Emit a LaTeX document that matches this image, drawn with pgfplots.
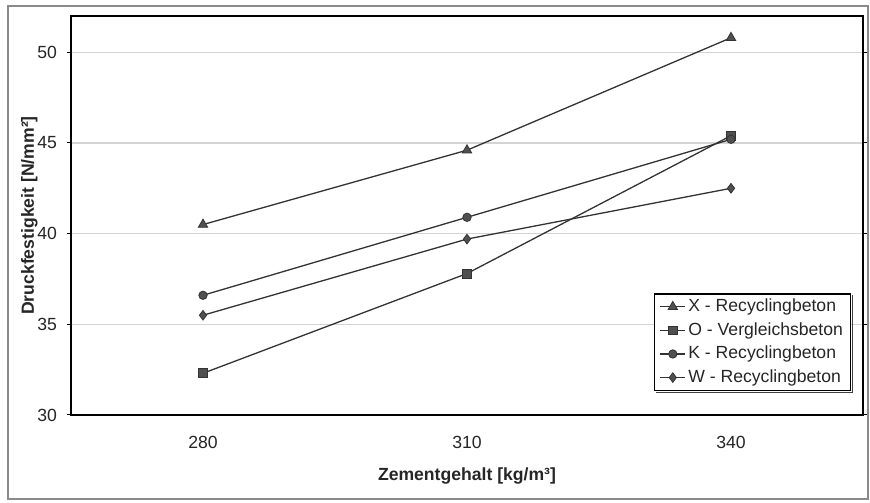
\documentclass[border=0pt]{standalone}
\usepackage{pgfplots}
\pgfplotsset{compat=1.18}
\usepackage{fontspec}
\setmainfont{Liberation Sans}
\definecolor{linegray}{HTML}{333333}
\definecolor{markgray}{HTML}{505050}
\definecolor{gridgray}{HTML}{D4D4D4}
\definecolor{framegray}{HTML}{8A8A8A}
\begin{document}
\begin{tikzpicture}
\useasboundingbox (0,0) rectangle (435pt,251pt);
\fill[white] (0,0) rectangle (435pt,251pt);
\draw[framegray, line width=0.8pt] (4pt,1.5pt) rectangle (434pt,248pt);
\begin{axis}[
  at={(35.5pt,43.5pt)}, anchor=south west,
  scale only axis, width=396pt, height=199.5pt,
  xmin=265, xmax=355, ymin=30, ymax=52,
  xtick={280,310,340}, ytick={30,35,40,45,50},
  major x tick style={draw=none},
  ytick style={black, line width=0.5pt},
  tick align=outside, major tick length=2pt,
  ymajorgrids, grid style={gridgray, line width=0.6pt},
  axis line style={black, line width=0.9pt},
  /pgf/number format/assume math mode=true,
  tick label style={font=\fontsize{8.8}{10}\selectfont, color=black!85},
  yticklabel style={xshift=-1.5pt},
  xticklabel style={yshift=-5pt},
  xlabel={\bfseries Zementgehalt [kg/m³]},
  ylabel={\bfseries Druckfestigkeit [N/mm²]},
  label style={font=\fontsize{8.8}{10}\selectfont, color=black!85},
  xlabel style={yshift=-2.5pt},
  ylabel style={yshift=-7pt},
  legend cell align=left,
  legend style={name=leg, at={(axis description cs:0.9848,0.0602)}, anchor=south east,
    font=\fontsize{8.8}{10}\selectfont, draw=black, line width=0.6pt, fill=white,
    inner xsep=2.5pt, inner ysep=0.5pt, row sep=0pt,
    nodes={inner xsep=1.2pt, inner ysep=1.2pt, text height=7.2pt, text depth=2.2pt, text=black!85}},
  legend image code/.code={\draw[mark repeat=2,mark phase=2] plot coordinates {(0cm,0cm) (0.22cm,0cm) (0.44cm,0cm)};},
  every axis plot/.append style={linegray, line width=0.65pt,
    mark options={fill=markgray, draw=black!80, line width=0.4pt, solid}},
]
\addplot[mark=triangle*, mark size=2.7pt] coordinates {(280,40.5) (310,44.6) (340,50.8)};
\addlegendentry{X - Recyclingbeton}
\addplot[mark=square*, mark size=2.2pt] coordinates {(280,32.3) (310,37.8) (340,45.4)};
\addlegendentry{O - Vergleichsbeton}
\addplot[mark=*, mark size=2.1pt] coordinates {(280,36.6) (310,40.9) (340,45.2)};
\addlegendentry{K - Recyclingbeton}
\addplot[mark=diamond*, mark size=2.4pt] coordinates {(280,35.5) (310,39.7) (340,42.5)};
\addlegendentry{W - Recyclingbeton}
\end{axis}
\draw[black!75, line width=0.8pt] ([xshift=0.7pt,yshift=-1pt]leg.north east) -- ([xshift=0.7pt,yshift=-0.7pt]leg.south east) -- ([xshift=1pt,yshift=-0.7pt]leg.south west);
\end{tikzpicture}
\end{document}
